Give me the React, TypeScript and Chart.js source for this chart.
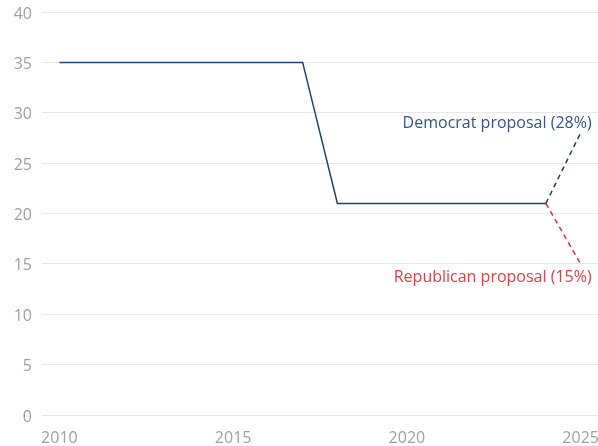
import React, { useEffect, useRef } from "react";
import { Chart, registerables } from "chart.js";

Chart.register(...registerables);

const years = [2010, 2011, 2012, 2013, 2014, 2015, 2016, 2017, 2018, 2019, 2020, 2021, 2022, 2023, 2024];
const rates = [35, 35, 35, 35, 35, 35, 35, 35, 21, 21, 21, 21, 21, 21, 21];
const demYears = [2024, 2025];
const demRates = [21, 28];
const repYears = [2024, 2025];
const repRates = [21, 15];
const xTicks = [2010, 2015, 2020, 2025];
const yTicks = [0, 5, 10, 15, 20, 25, 30, 35, 40];
const demLabel = "Democrat proposal (28%)";
const repLabel = "Republican proposal (15%)";

const NAVY = "#23406f";
const RED = "#d0343c";
const FONT = "'Open Sans', Lato, sans-serif";

const labelPlugin = {
  id: "proposalLabels",
  afterDatasetsDraw(chart: any) {
    const { ctx, scales } = chart;
    const x = scales.x.getPixelForValue(demYears[1]) + 11;
    ctx.save();
    ctx.font = `16px ${FONT}`;
    ctx.textAlign = "right";
    ctx.textBaseline = "middle";
    ctx.fillStyle = "#34548a";
    ctx.fillText(demLabel, x, scales.y.getPixelForValue(demRates[1]) - 9);
    ctx.fillStyle = "#d6424a";
    ctx.fillText(repLabel, x, scales.y.getPixelForValue(repRates[1]) + 14);
    ctx.restore();
  },
};

export default function App() {
  const ref = useRef<HTMLCanvasElement>(null);
  useEffect(() => {
    document.body.style.margin = "0";
    const chart = new Chart(ref.current!, {
      type: "line",
      data: {
        datasets: [
          {
            data: years.map((y, i) => ({ x: y, y: rates[i] })),
            borderColor: NAVY,
            borderWidth: 1.5,
            pointRadius: 0,
            tension: 0,
          },
          {
            data: demYears.map((y, i) => ({ x: y, y: demRates[i] })),
            borderColor: NAVY,
            borderWidth: 1.5,
            borderDash: [5, 4],
            pointRadius: 0,
          },
          {
            data: repYears.map((y, i) => ({ x: y, y: repRates[i] })),
            borderColor: RED,
            borderWidth: 1.5,
            borderDash: [5, 4],
            pointRadius: 0,
          },
        ],
      },
      options: {
        animation: false,
        responsive: false,
        layout: { padding: { top: 12, right: 0, left: 0, bottom: 0 } },
        plugins: { legend: { display: false }, tooltip: { enabled: false } },
        scales: {
          x: {
            type: "linear",
            min: 2009.5,
            max: 2025.5,
            afterBuildTicks: (s: any) => {
              s.ticks = xTicks.map((v) => ({ value: v }));
            },
            afterFit: (s: any) => {
              s.height = 31;
              s.paddingLeft = 0;
              s.paddingRight = 0;
            },
            grid: { display: false },
            border: { display: false },
            ticks: {
              color: "#9f9f9f",
              font: { family: FONT, size: 16 },
              padding: 6,
              maxRotation: 0,
              autoSkip: false,
              callback: (v: any) => String(v),
            },
          },
          y: {
            min: 0,
            max: 40,
            afterBuildTicks: (s: any) => {
              s.ticks = yTicks.map((v) => ({ value: v }));
            },
            afterFit: (s: any) => {
              s.width = 42;
              s.paddingTop = 0;
              s.paddingBottom = 0;
            },
            grid: { color: "#e8e8e8", drawTicks: false, lineWidth: 1 },
            border: { display: false },
            ticks: {
              color: "#9f9f9f",
              font: { family: FONT, size: 16 },
              padding: 10,
              labelOffset: 2,
              callback: (v: any) => String(v),
            },
          },
        },
      },
      plugins: [labelPlugin],
    });
    return () => chart.destroy();
  }, []);
  return (
    <div style={{ position: "absolute", left: 0, top: 0, width: 598, height: 446 }}>
      <canvas ref={ref} width={598} height={446} style={{ width: 598, height: 446 }} />
    </div>
  );
}
